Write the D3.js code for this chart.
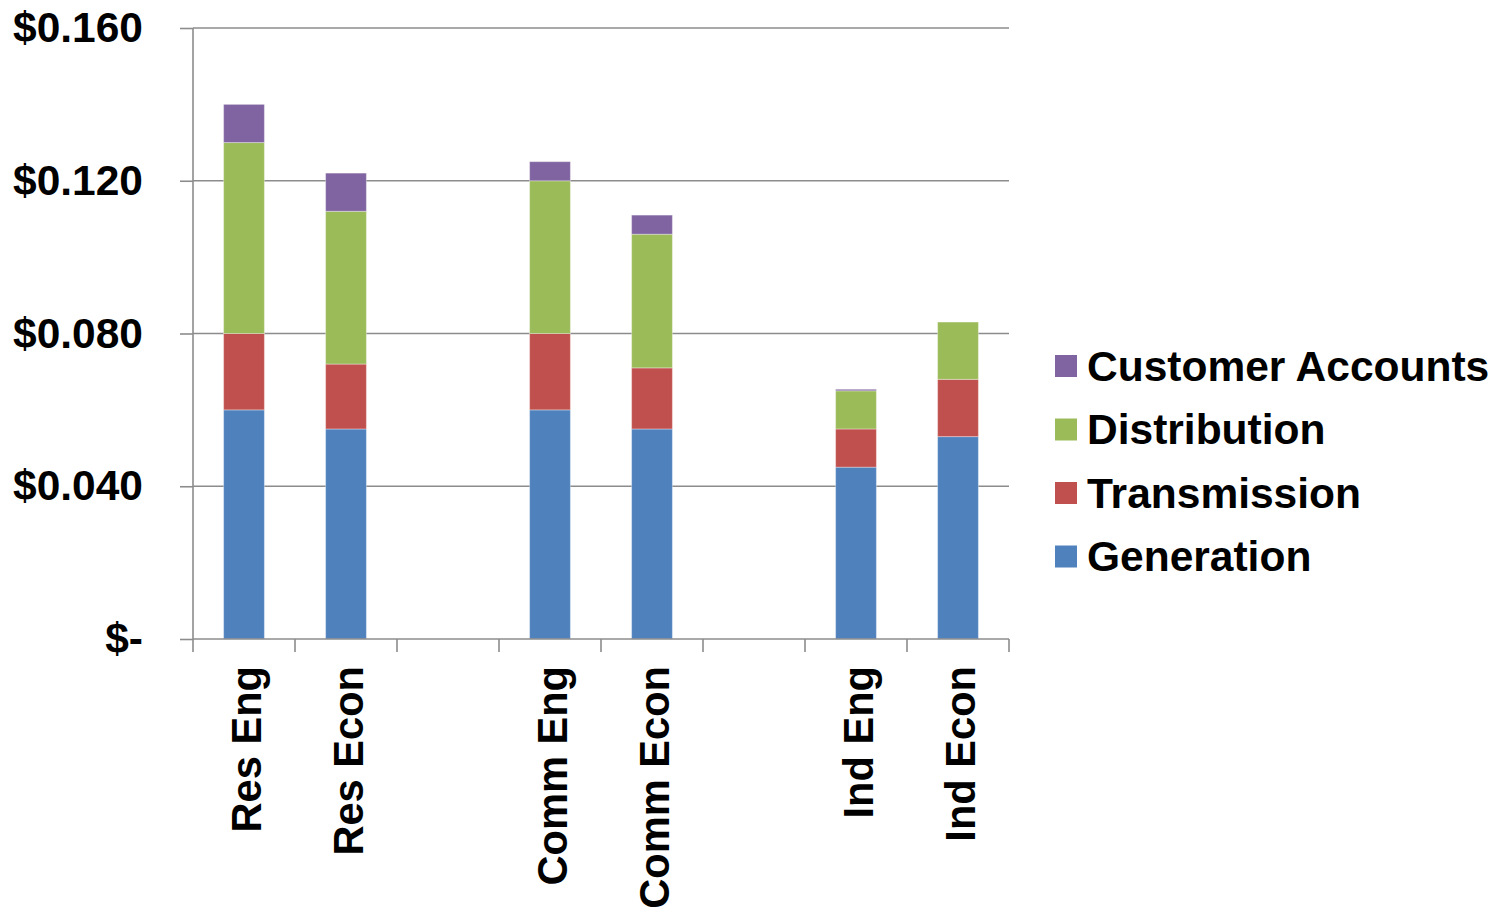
<!DOCTYPE html>
<html>
<head>
<meta charset="utf-8">
<script src="https://cdn.jsdelivr.net/npm/d3@7"></script>
<style>
  html, body { margin: 0; padding: 0; background: #fff; }
  svg { display: block; font-family: "Liberation Sans", Arial, sans-serif; font-weight: bold; }
</style>
</head>
<body>
<svg id="chart" width="1504" height="913"></svg>
<script>
// Cost per kWh by customer class and method (empty slots are spacer columns)
const categories = ["Res Eng", "Res Econ", "", "Comm Eng", "Comm Econ", "", "Ind Eng", "Ind Econ"];
const generation   = [0.060, 0.055, 0, 0.060, 0.055, 0, 0.045, 0.053];
const transmission = [0.020, 0.017, 0, 0.020, 0.016, 0, 0.010, 0.015];
const distribution = [0.050, 0.040, 0, 0.040, 0.035, 0, 0.010, 0.015];
const customerAccounts = [0.010, 0.010, 0, 0.005, 0.005, 0, 0.0004, 0];
const yTicks = [0, 0.04, 0.08, 0.12, 0.16];
const seriesNames = ["Generation", "Transmission", "Distribution", "Customer Accounts"];
const seriesColors = ["#4F81BD", "#C0504D", "#9BBB59", "#8064A2"];

const rows = categories.map((c, i) => ({
  key: i,
  label: c,
  "Generation": generation[i],
  "Transmission": transmission[i],
  "Distribution": distribution[i],
  "Customer Accounts": customerAccounts[i]
}));

const svg = d3.select("#chart");
const plotLeft = 193, plotRight = 1009, plotTop = 28, plotBottom = 639;
const fontSize = "42.5px";
const catFontSize = "41.6px";

const x = d3.scaleBand()
  .domain(rows.map(d => d.key))
  .range([plotLeft, plotRight])
  .paddingInner(0.6)
  .paddingOuter(0.3);

const y = d3.scaleLinear().domain([0, 0.16]).range([plotBottom, plotTop]);

const gridColor = "#8c8c8c";

// horizontal gridlines
svg.append("g")
  .selectAll("line")
  .data(yTicks.filter(t => t > 0))
  .join("line")
  .attr("x1", plotLeft).attr("x2", plotRight)
  .attr("y1", d => y(d)).attr("y2", d => y(d))
  .attr("stroke", gridColor).attr("stroke-width", 1.6);

// stacked bars
const stack = d3.stack().keys(seriesNames);
const layers = stack(rows);
svg.append("g")
  .selectAll("g")
  .data(layers)
  .join("g")
  .attr("fill", (d, i) => seriesColors[i])
  .selectAll("rect")
  .data(d => d.filter(s => s[1] - s[0] > 0))
  .join("rect")
  .attr("x", d => x(d.data.key))
  .attr("width", x.bandwidth())
  .attr("y", d => y(d[1]))
  .attr("height", d => y(d[0]) - y(d[1]))
  .attr("stroke", "rgba(255,255,255,0.35)")
  .attr("stroke-width", 1);

// y axis
const yAxis = d3.axisLeft(y)
  .tickValues(yTicks)
  .tickSize(13)
  .tickPadding(37)
  .tickFormat(d => d === 0 ? "$-" : "$" + d3.format(".3f")(d));
const gy = svg.append("g").attr("transform", `translate(${plotLeft},0)`).call(yAxis);
gy.select(".domain").attr("stroke", gridColor).attr("stroke-width", 1.6).attr("d", `M0,${plotBottom}V${plotTop}`);
gy.selectAll(".tick line").attr("stroke", gridColor).attr("stroke-width", 1.6);
gy.selectAll(".tick text")
  .attr("fill", "#000")
  .style("font-size", fontSize)
  .style("font-weight", "bold")
  .style("font-family", "'Liberation Sans', Arial, sans-serif");

// x axis: ticks at band boundaries
const boundaries = d3.range(categories.length + 1).map(i => plotLeft + i * x.step());
const gx = svg.append("g");
gx.append("line")
  .attr("x1", plotLeft).attr("x2", plotRight)
  .attr("y1", plotBottom).attr("y2", plotBottom)
  .attr("stroke", gridColor).attr("stroke-width", 1.6);
gx.selectAll("line.tick")
  .data(boundaries)
  .join("line")
  .attr("class", "tick")
  .attr("x1", d => d).attr("x2", d => d)
  .attr("y1", plotBottom).attr("y2", plotBottom + 13)
  .attr("stroke", gridColor).attr("stroke-width", 1.6);

gx.selectAll("text")
  .data(rows.filter(d => d.label !== ""))
  .join("text")
  .attr("transform", d => `translate(${x(d.key) + x.bandwidth() / 2 + 2},${plotBottom + 27}) rotate(-90)`)
  .attr("text-anchor", "end")
  .attr("dy", "0.35em")
  .style("font-size", catFontSize)
  .attr("fill", "#000")
  .text(d => d.label);

// legend (top entry is the topmost stack layer)
const legendOrder = seriesNames.map((n, i) => ({ name: n, color: seriesColors[i] })).reverse();
const legend = svg.append("g").attr("transform", "translate(1055,366)");
const item = legend.selectAll("g")
  .data(legendOrder)
  .join("g")
  .attr("transform", (d, i) => `translate(0,${i * 63.5})`);
item.append("rect")
  .attr("x", 0).attr("y", -11)
  .attr("width", 22).attr("height", 22)
  .attr("fill", d => d.color);
item.append("text")
  .attr("x", 32)
  .attr("dy", "0.35em")
  .style("font-size", fontSize)
  .attr("fill", "#000")
  .text(d => d.name);
</script>
</body>
</html>
